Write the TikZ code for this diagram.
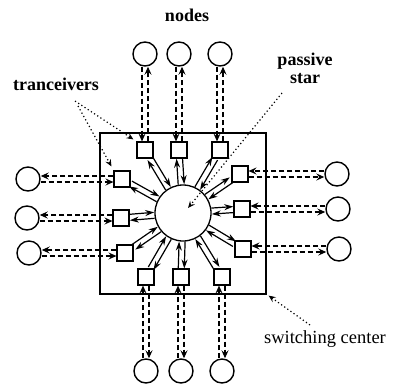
\documentclass[tikz,border=0pt]{standalone}
\usepackage{fontspec}
\setmainfont{Liberation Serif}
\usetikzlibrary{arrows.meta,calc}

\begin{document}
\begin{tikzpicture}[x=1pt,y=-1pt,
  endnode/.style={circle,draw,line width=1.4pt,minimum size=24pt,inner sep=0pt},
  trx/.style={rectangle,draw,fill=white,line width=1.1pt,minimum size=16pt,inner sep=0pt},
  hub/.style={circle,draw,fill=white,line width=1.3pt,minimum size=56pt,inner sep=0pt},
  centre/.style={rectangle,draw,line width=1.2pt,minimum width=166pt,minimum height=161pt,inner sep=0pt},
  link/.style={line width=1.5pt,dash pattern=on 5pt off 3pt,
    -{Stealth[length=8pt,width=7pt,inset=3pt]}},
  feed/.style={line width=1.2pt,-{Stealth[length=9pt,width=6pt]}},
  pointer/.style={line width=1.2pt,dash pattern=on 1.2pt off 2.6pt,
    -{Stealth[length=7pt,width=6pt,inset=2.5pt]}},
  blab/.style={font=\fontsize{18}{18}\selectfont\bfseries,inner sep=0pt},
  rlab/.style={font=\fontsize{18.5}{18.5}\selectfont,inner sep=0pt}
]
\useasboundingbox (0,0) rectangle (398,389);

% switching center and passive star
\node[centre] (sc) at (183,213.5) {};
\node[hub] (S) at (183,213) {};

% transceivers
\node[trx] (tt1) at (145,150) {};
\node[trx] (tt2) at (179,150) {};
\node[trx] (tt3) at (220,150) {};
\node[trx] (tb1) at (146,277) {};
\node[trx] (tb2) at (181,277) {};
\node[trx] (tb3) at (222,277) {};
\node[trx] (tl1) at (122,179) {};
\node[trx] (tl2) at (121,218) {};
\node[trx] (tl3) at (125,253) {};
\node[trx] (tr1) at (240,174) {};
\node[trx] (tr2) at (242,209) {};
\node[trx] (tr3) at (243,249) {};

% nodes
\node[endnode] (nt1) at (145,54) {};
\node[endnode] (nt2) at (179,54) {};
\node[endnode] (nt3) at (220,54) {};
\node[endnode] (nb1) at (146,371) {};
\node[endnode] (nb2) at (181,371) {};
\node[endnode] (nb3) at (222,371) {};
\node[endnode] (nl1) at (28,179) {};
\node[endnode] (nl2) at (27,218) {};
\node[endnode] (nl3) at (29,253) {};
\node[endnode] (nr1) at (337,174) {};
\node[endnode] (nr2) at (338,209) {};
\node[endnode] (nr3) at (339,249) {};

% fibre pairs between nodes and transceivers
\foreach \i in {1,2,3}{
  \draw[link,transform canvas={xshift=-3pt}] (nt\i) -- (tt\i);
  \draw[link,transform canvas={xshift=3pt}]  (tt\i) -- (nt\i);
  \draw[link,transform canvas={xshift=-3pt}] (nb\i) -- (tb\i);
  \draw[link,transform canvas={xshift=3pt}]  (tb\i) -- (nb\i);
  \draw[link,transform canvas={yshift=3pt}]  (tl\i) -- (nl\i);
  \draw[link,transform canvas={yshift=-3pt}] (nl\i) -- (tl\i);
  \draw[link,transform canvas={yshift=3pt}]  (nr\i) -- (tr\i);
  \draw[link,transform canvas={yshift=-3pt}] (tr\i) -- (nr\i);
}

% fibre pairs between transceivers and the passive star
\foreach \t in {tt1,tt2,tt3,tb1,tb2,tb3,tl1,tl2,tl3,tr1,tr2,tr3}{
  \draw[feed,transform canvas={shift={($(\t)!3pt!90:(S)-(\t)$)}}] (\t) -- (S);
  \draw[feed,transform canvas={shift={($(\t)!3pt!-90:(S)-(\t)$)}}] (S) -- (\t);
}

% labels
\node[blab,anchor=base] (lnodes) at (187,21) {nodes};
\node[blab,anchor=base] (ltrx) at (56,90) {tranceivers};
\node[blab,align=center] (lstar) at (305,68) {passive\\star};
\node[rlab,anchor=base] (lsc) at (325,343) {switching center};

% pointers
\coordinate (pa) at (75,101);
\coordinate (pb) at (78,106);
\coordinate (pc) at (282,93);
\coordinate (pd) at (310,325);
\draw[pointer] (pa) -- ($(tt1.north west)+(-3,-2)$);
\draw[pointer] (pb) -- ($(tl1.north west)+(-2,-4)$);
\draw[pointer] (pc) -- ($(S.center)+(5,-5)$);
\draw[pointer] (pd) -- ($(sc.south east)+(2,1)$);
\end{tikzpicture}
\end{document}
